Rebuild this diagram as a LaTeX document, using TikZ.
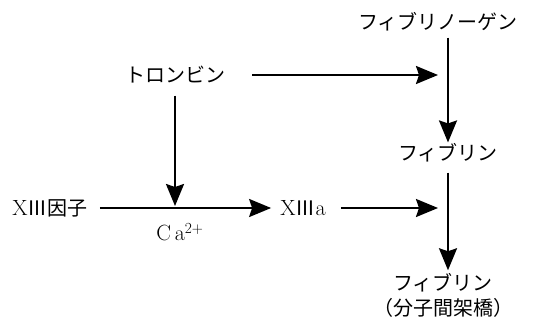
\documentclass[tikz,border=0pt]{standalone}
\usepackage{fontspec}
\newfontfamily\jp{Noto Sans CJK JP}
\usetikzlibrary{arrows.meta}
\begin{document}
\begin{tikzpicture}[x=1pt,y=1pt,
  lbl/.style={font=\fontsize{20}{25}\selectfont\jp, inner sep=1pt, align=center},
  arr/.style={line width=2.2pt, -{Stealth[length=22pt,width=18pt,inset=3pt]}}]
\useasboundingbox (0,0) rectangle (540,322);
\node[lbl] (fgen) at (438,300) {フィブリノーゲン};
\node[lbl] (thr) at (175,247) {トロンビン};
\node[lbl] (fib) at (448,169) {フィブリン};
\node[lbl] (f13) at (50,114) {{\rmfamily\fontsize{22}{25}\selectfont X}Ⅲ因子};
\node[lbl] (f13a) at (303,114) {{\rmfamily\fontsize{22}{25}\selectfont X}Ⅲ{\rmfamily\fontsize{22}{25}\selectfont a}};
\node[lbl, font=\fontsize{22}{25}\selectfont\rmfamily] (ca) at (180,90) {C\,a\textsuperscript{2+}};
\node[lbl] (fx) at (443,26.5) {フィブリン\\（分子間架橋）};
\draw[arr, shorten <=5pt] (fgen.south -| fib.north) -- (fib.north);
\draw[arr, shorten <=26pt, shorten >=10pt] (thr.east) -- (thr.east -| fib.north);
\draw[arr, shorten <=11pt, shorten >=2pt] (thr.south) -- (thr.south |- f13);
\draw[arr, shorten <=11pt, shorten >=8pt] (f13.east) -- (f13a.west);
\draw[arr, shorten <=14pt, shorten >=10pt] (f13a.east) -- (f13a.east -| fib.north);
\draw[arr, shorten <=9pt, shorten >=2pt] (fib.south) -- (fib.south |- fx.north);
\end{tikzpicture}
\end{document}
